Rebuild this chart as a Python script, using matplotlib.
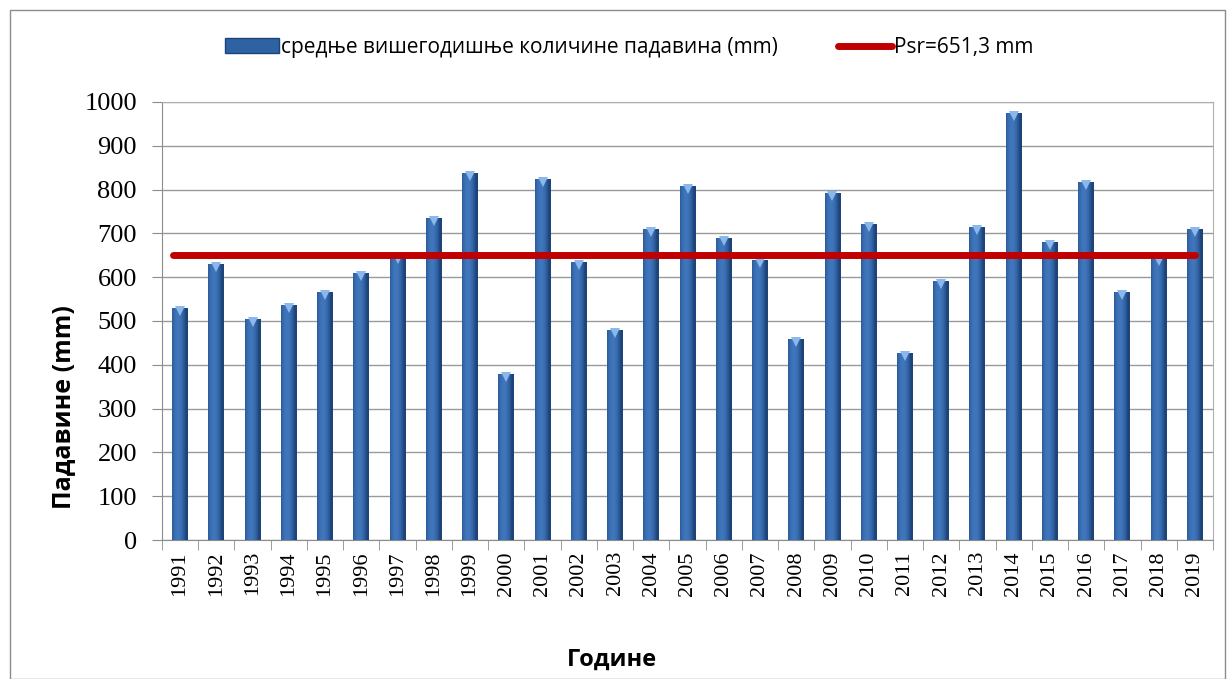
import numpy as np
import matplotlib
matplotlib.use("Agg")
import matplotlib.pyplot as plt
from matplotlib.patches import Rectangle, Patch
from matplotlib.lines import Line2D

years = [str(y) for y in range(1991, 2020)]
padavine = [530, 630, 505, 537, 566, 610, 648, 735, 838, 379,
            824, 635, 479, 710, 808, 689, 639, 459, 792, 721,
            427, 591, 715, 975, 680, 817, 566, 644, 710]
p_sr = 651.3

bar_label = "средње вишегодишње количине падавина (mm)"
line_label = "Psr=651,3 mm"

sans = ["Open Sans", "DejaVu Sans"]
serif = ["Liberation Serif", "DejaVu Serif"]

fig = plt.figure(figsize=(12.29, 6.79), dpi=100)
ax = fig.add_axes([0.1318, 0.2047, 0.987 - 0.1318, 0.8498 - 0.2047])

x = np.arange(len(years))
w = 0.44

# gradient bars: dark edges, lighter middle
grad = np.linspace(-1, 1, 64)
shade = 1 - np.abs(grad + 0.25) ** 2
shade = np.clip(shade, 0, 1)
dark = np.array([0x1d, 0x44, 0x7a]) / 255
light = np.array([0x40, 0x76, 0xbc]) / 255
img = dark[None, :] + (light - dark)[None, :] * shade[:, None]
img = img[None, :, :]

bars = ax.bar(x, padavine, width=w, color="#2f62a3", zorder=2)
for b in bars:
    x0, y0 = b.get_x(), b.get_y()
    im = ax.imshow(img, extent=[x0, x0 + b.get_width(), y0, y0 + b.get_height()],
                   aspect="auto", zorder=3, interpolation="bilinear")
    im.set_clip_path(b)
# light cap on top of each bar
ax.plot(x, np.array(padavine) - 7, linestyle="none", marker="v", markersize=7,
        color="#8ab8ea", markeredgewidth=0, zorder=4)

ax.plot([x[0] - 0.2, x[-1]], [p_sr, p_sr], color="#c00000", lw=5,
        solid_capstyle="round", zorder=5)

ax.set_xlim(-0.5, len(years) - 0.5)
ax.set_ylim(0, 1000)
ax.set_yticks(range(0, 1001, 100))
ax.yaxis.grid(True, color="#9a9a9a", lw=1)
ax.set_axisbelow(True)

ax.set_xticks(x)
ax.set_xticklabels(years, rotation=90, fontsize=16, family=serif)
ax.tick_params(axis="x", which="major", length=0, pad=8)
ax.set_xticks(np.arange(-0.5, len(years), 1), minor=True)
ax.tick_params(axis="x", which="minor", length=7, color="#8c8c8c")
ax.tick_params(axis="y", length=7, color="#8c8c8c", labelsize=19, pad=11)
for lab in ax.get_yticklabels():
    lab.set_family(serif)

for s in ax.spines.values():
    s.set_color("#b0b0b0")
ax.spines["left"].set_color("#8c8c8c")
ax.spines["bottom"].set_color("#8c8c8c")

ax.set_ylabel("Падавине (mm)", fontsize=18, fontweight="bold", family=sans)
ax.yaxis.set_label_coords(-0.082, 0.304)
ax.set_xlabel("Године", fontsize=17, fontweight="bold", family=sans)
ax.xaxis.set_label_coords(0.428, -0.245)

handles = [Patch(facecolor="#2f62a3", edgecolor="#1d447a"),
           Line2D([0], [0], color="#c00000", lw=5, solid_capstyle="round")]
fig.legend(handles, [bar_label, line_label], loc="center", bbox_to_anchor=(0.512, 0.93),
           ncol=2, frameon=False, prop={"family": sans, "size": 15},
           handlelength=2.6, handletextpad=0.1, columnspacing=2.9)

fig.patches.append(Rectangle((10 / 1229, 0), 1 - 14 / 1229, 1 - 10 / 679, transform=fig.transFigure,
                             fill=False, edgecolor="#8c8c8c", lw=1))

fig.savefig("out.png", dpi=100)
